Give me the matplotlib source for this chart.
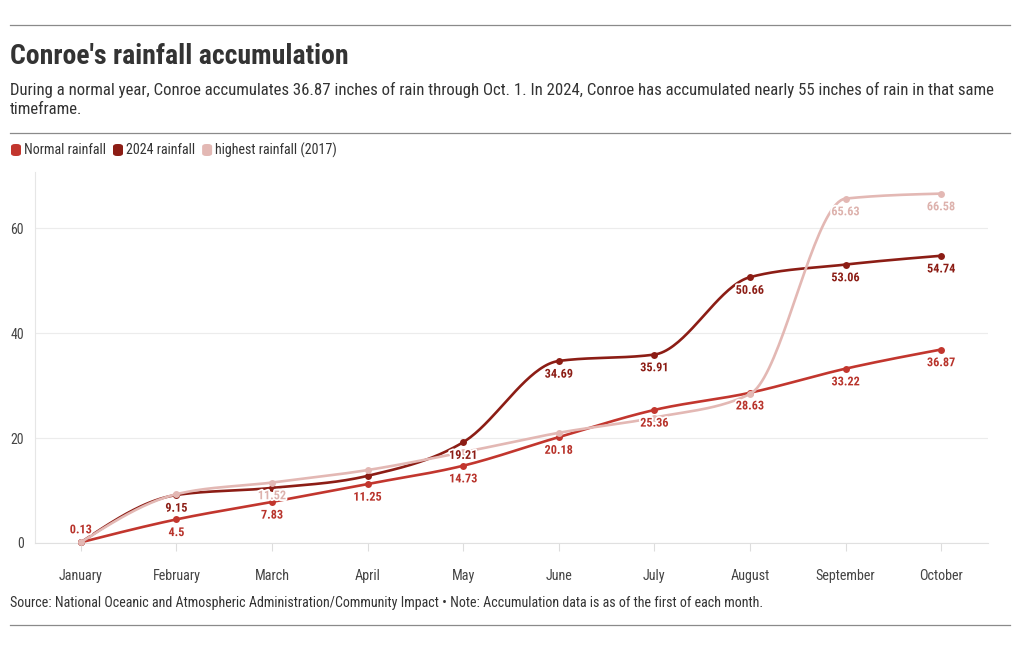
import numpy as np
import matplotlib
matplotlib.use("Agg")
import matplotlib.pyplot as plt
from matplotlib import font_manager
from matplotlib.lines import Line2D
from matplotlib.patches import FancyBboxPatch
import matplotlib.patheffects as pe

# ---------------- data ----------------
months = ["January", "February", "March", "April", "May", "June",
          "July", "August", "September", "October"]
normal = [0.13, 4.5, 7.83, 11.25, 14.73, 20.18, 25.36, 28.63, 33.22, 36.87]
rain_2024 = [0.13, 9.15, 10.5, 12.8, 19.21, 34.69, 35.91, 50.66, 53.06, 54.74]
rain_2017 = [0.13, 9.3, 11.52, 13.9, 17.3, 21.0, 23.9, 28.4, 65.63, 66.58]
series_names = ["Normal rainfall", "2024 rainfall", "highest rainfall (2017)"]
# which value labels are visible in the reference
show_normal = [1, 1, 1, 1, 1, 1, 1, 1, 1, 1]
show_2024 = [0, 1, 0, 0, 1, 1, 1, 1, 1, 1]
show_2017 = [0, 0, 1, 0, 0, 0, 0, 0, 1, 1]
yticks = [0, 20, 40, 60]

colors = ["#c2362e", "#8c1d15", "#e3b8b4"]
label_colors = ["#b8332b", "#8c1d15", "#ddb2ad"]

# ---------------- fonts ----------------
avail = {f.name for f in font_manager.fontManager.ttflist}
family = "DejaVu Sans"
for cand in ["Roboto Condensed", "Liberation Sans Narrow", "Roboto"]:
    if cand in avail:
        family = cand
        break
plt.rcParams["font.family"] = [family, "DejaVu Sans"]

W, H = 1020, 650
fig = plt.figure(figsize=(W / 100, H / 100), dpi=100)


def fx(px):
    return px / W


def fy(py):
    return 1 - py / H


# rules
for py in [25, 133, 625]:
    fig.add_artist(Line2D([fx(10), fx(1010)], [fy(py), fy(py)], color="#8a8a8a", lw=0.9))

fig.text(fx(10), fy(56), "Conroe's rainfall accumulation", fontsize=20, fontweight="bold",
         color="#333333", va="center", ha="left")
fig.text(fx(10), fy(90), "During a normal year, Conroe accumulates 36.87 inches of rain through Oct. 1. In 2024, Conroe has accumulated nearly 55 inches of rain in that same",
         fontsize=12.1, color="#333333", va="center", ha="left")
fig.text(fx(10), fy(110), "timeframe.", fontsize=12.1, color="#333333", va="center", ha="left")
fig.text(fx(10), fy(603), "Source: National Oceanic and Atmospheric Administration/Community Impact \u2022 Note: Accumulation data is as of the first of each month.",
         fontsize=10.1, color="#333333", va="center", ha="left")

# legend (manual)
renderer = fig.canvas.get_renderer()
x = 10
for name, col in zip(series_names, colors):
    box = FancyBboxPatch((fx(x + 1), fy(156)), fx(10), 12 / H,
                         boxstyle="round,pad=0,rounding_size=0.004",
                         transform=fig.transFigure, facecolor=col, edgecolor="none")
    fig.add_artist(box)
    t = fig.text(fx(x + 14), fy(150), name, fontsize=10.1, color="#333333", va="center", ha="left")
    bb = t.get_window_extent(renderer)
    x = bb.x1 + 6

# ---------------- axes ----------------
ax = fig.add_axes([fx(35), fy(543), fx(988) - fx(35), fy(172) - fy(543)])
xs = np.arange(len(months))
ax.set_xlim(-0.48, 9.49)
ax.set_ylim(0, 70.7)
ax.set_yticks(yticks)
ax.set_xticks(xs)
ax.set_xticklabels(months)
for s in ["top", "right"]:
    ax.spines[s].set_visible(False)
ax.spines["left"].set_color("#e6e6e6")
ax.spines["bottom"].set_color("#e0e0e0")
ax.tick_params(axis="y", length=0, pad=8, labelsize=10, labelcolor="#444444")
ax.tick_params(axis="x", length=6, width=0.8, color="#dddddd", pad=13, labelsize=10.2,
               labelcolor="#444444")
ax.grid(axis="y", color="#ececec", lw=0.8)
ax.set_axisbelow(True)


def monotone(xv, yv, n=40):
    xv = np.asarray(xv, float)
    yv = np.asarray(yv, float)
    h = np.diff(xv)
    s = np.diff(yv) / h
    m = np.zeros_like(yv)
    for i in range(1, len(yv) - 1):
        s0, s1 = s[i - 1], s[i]
        p = (s0 * h[i] + s1 * h[i - 1]) / (h[i - 1] + h[i])
        m[i] = (np.sign(s0) + np.sign(s1)) * min(abs(s0), abs(s1), 0.5 * abs(p))
    m[0] = (3 * s[0] - m[1]) / 2 if len(yv) > 2 else s[0]
    m[-1] = (3 * s[-1] - m[-2]) / 2 if len(yv) > 2 else s[-1]
    X, Y = [], []
    for i in range(len(xv) - 1):
        t = np.linspace(0, 1, n, endpoint=(i == len(xv) - 2))
        h00 = 2 * t**3 - 3 * t**2 + 1
        h10 = t**3 - 2 * t**2 + t
        h01 = -2 * t**3 + 3 * t**2
        h11 = t**3 - t**2
        X.append(xv[i] + t * h[i])
        Y.append(h00 * yv[i] + h10 * h[i] * m[i] + h01 * yv[i + 1] + h11 * h[i] * m[i + 1])
    return np.concatenate(X), np.concatenate(Y)


all_series = [normal, rain_2024, rain_2017]
shows = [show_normal, show_2024, show_2017]
for vals, col, z in zip(all_series, colors, [3, 4, 5]):
    cx, cy = monotone(xs, vals)
    ax.plot(cx, cy, color=col, lw=1.9, zorder=z, solid_capstyle="round", clip_on=False)
    ax.plot(xs, vals, "o", color=col, ms=5, zorder=z, clip_on=False, mec="none")

for vals, show, lc in zip(all_series, shows, label_colors):
    for xi, v, sh in zip(xs, vals, show):
        if not sh:
            continue
        above = v < 2
        dy = 9 if above else -9.5
        ax.annotate(f"{v:g}", (xi, v), xytext=(0, dy), textcoords="offset points",
                    ha="center", va="center", fontsize=8.8, fontweight="bold", color=lc,
                    zorder=10,
                    path_effects=[pe.withStroke(linewidth=2.5, foreground="white")])

fig.savefig("out.png", dpi=100)
